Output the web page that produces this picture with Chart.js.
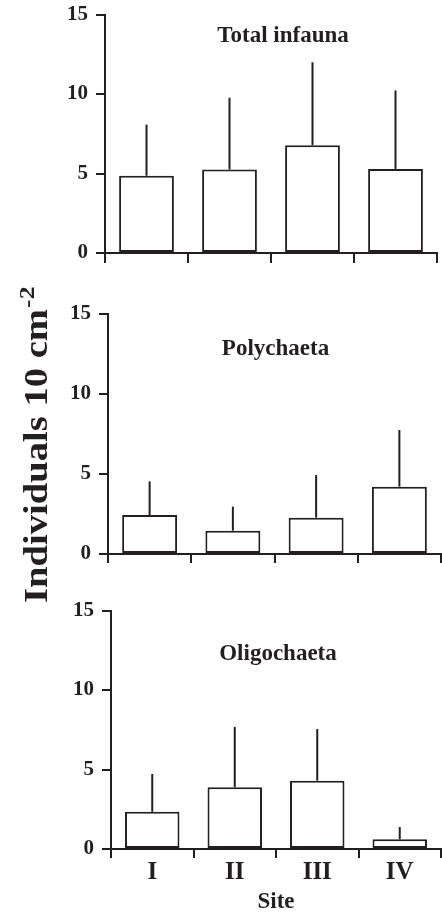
<!DOCTYPE html>
<html><head><meta charset="utf-8">
<script src="https://cdn.jsdelivr.net/npm/chart.js@4"></script>
<style>
html,body{margin:0;padding:0;background:#fff;overflow:hidden;}
#wrap{position:relative;width:442px;height:913px;overflow:hidden;}
canvas{position:absolute;left:0;}
</style></head><body>
<div id="wrap">
<canvas id="c1" width="442" height="296"></canvas>
<canvas id="c2" width="442" height="340"></canvas>
<canvas id="c3" width="442" height="323"></canvas>
</div>
<script>
// ---- data ----
const sites = ['I', 'II', 'III', 'IV'];
const yTickValues = [0, 5, 10, 15];
const panelTitles = ['Total infauna', 'Polychaeta', 'Oligochaeta'];
const yAxisTitle = 'Individuals 10 cm';
const yAxisTitleSup = '-2';
const xAxisTitle = 'Site';
const totalMean = [4.86, 5.25, 6.78, 5.29];
const totalSD   = [3.22, 4.52, 5.22, 4.94];
const polyMean  = [2.44, 1.46, 2.27, 4.21];
const polySD    = [2.10, 1.50, 2.67, 3.54];
const oligoMean = [2.34, 3.88, 4.30, 0.61];
const oligoSD   = [2.38, 3.80, 3.25, 0.77];

// ---- styles ----
const INK = '#231f20';
const SERIF = '"Liberation Serif", "Times New Roman", serif';

const errorBarPlugin = {
  id: 'errorBars',
  afterDatasetsDraw(chart) {
    const ds = chart.data.datasets[0];
    const meta = chart.getDatasetMeta(0);
    const ys = chart.scales.y;
    const ctx = chart.ctx;
    ctx.save();
    ctx.strokeStyle = INK;
    ctx.lineWidth = 2;
    meta.data.forEach((bar, i) => {
      const top = ys.getPixelForValue(ds.data[i] + ds.sd[i]);
      ctx.beginPath();
      ctx.moveTo(bar.x, bar.y);
      ctx.lineTo(bar.x, top);
      ctx.stroke();
    });
    ctx.restore();
  }
};

const panelTitlePlugin = {
  id: 'panelTitle',
  afterDraw(chart, args, opts) {
    const ctx = chart.ctx, ca = chart.chartArea;
    ctx.save();
    ctx.fillStyle = INK;
    ctx.font = 'bold 23px ' + SERIF;
    ctx.textAlign = 'center';
    ctx.textBaseline = 'alphabetic';
    ctx.fillText(opts.text, (ca.left + ca.right) / 2 + opts.dx, ca.top + opts.dy);
    ctx.restore();
  }
};

const yTitlePlugin = {
  id: 'yTitle',
  afterDraw(chart, args, opts) {
    if (!opts.show) return;
    const ctx = chart.ctx;
    ctx.save();
    ctx.fillStyle = INK;
    ctx.translate(opts.x, opts.y);
    ctx.rotate(-Math.PI / 2);
    ctx.scale(1.17, 1);
    ctx.font = 'bold 33px ' + SERIF;
    ctx.textAlign = 'left';
    ctx.textBaseline = 'alphabetic';
    ctx.fillText(yAxisTitle, 0, 0);
    const w = ctx.measureText(yAxisTitle).width;
    ctx.font = 'bold 22px ' + SERIF;
    ctx.fillText(yAxisTitleSup, w + 1, -13);
    ctx.restore();
  }
};

function makePanel(id, top, cfg, means, sds, title, showX) {
  const canvas = document.getElementById(id);
  canvas.style.top = top + 'px';
  const yTitle = cfg.yTitle || { show: false };
  return new Chart(canvas, {
    type: 'bar',
    data: {
      labels: sites,
      datasets: [{
        data: means, sd: sds,
        backgroundColor: '#ffffff', borderColor: INK, borderWidth: 2,
        borderSkipped: false, barPercentage: 0.66, categoryPercentage: 1
      }]
    },
    options: {
      responsive: false, animation: false, devicePixelRatio: 1,
      layout: { padding: { top: cfg.padTop, right: cfg.padRight, left: 0, bottom: 0 } },
      plugins: {
        legend: { display: false }, tooltip: { enabled: false }, title: { display: false },
        panelTitle: { text: title, dx: cfg.tdx, dy: cfg.tdy },
        yTitle: yTitle
      },
      scales: {
        x: {
          grid: { offset: true, drawOnChartArea: false, drawTicks: true, tickLength: cfg.xTick, color: INK, lineWidth: 2 },
          border: { display: true, color: INK, width: 2 },
          ticks: { display: showX, color: INK, padding: 0, font: { family: SERIF, size: 25, weight: 'bold' } },
          title: { display: showX, text: xAxisTitle, color: INK, padding: 0, font: { family: SERIF, size: 23, weight: 'bold', lineHeight: 0.95 } },
          afterFit(s) { s.height = cfg.xh; }
        },
        y: {
          min: 0, max: 15,
          afterBuildTicks(s) { s.ticks = yTickValues.map(v => ({ value: v })); },
          grid: { drawOnChartArea: false, drawTicks: true, tickLength: 9, color: INK, lineWidth: 2 },
          border: { display: true, color: INK, width: 2 },
          ticks: { color: INK, padding: 8, font: { family: SERIF, size: 21, weight: 'bold' } },
          afterFit(s) { s.width = cfg.yw; }
        }
      }
    },
    plugins: [errorBarPlugin, panelTitlePlugin, yTitlePlugin]
  });
}

makePanel('c1', -6,  { padTop: 14, padRight: 5, xh: 37, yw: 105, xTick: 10, tdx: 12, tdy: 27 }, totalMean, totalSD, panelTitles[0], false);
makePanel('c2', 280, { padTop: 34, padRight: 1, xh: 66, yw: 108, xTick: 9, tdx: 1, tdy: 41,
  yTitle: { show: true, x: 47, y: 323 } }, polyMean, polySD, panelTitles[1], false);
makePanel('c3', 590, { padTop: 19, padRight: 1, xh: 64, yw: 111, xTick: 9, tdx: 2, tdy: 49 }, oligoMean, oligoSD, panelTitles[2], true);
</script>
</body></html>
